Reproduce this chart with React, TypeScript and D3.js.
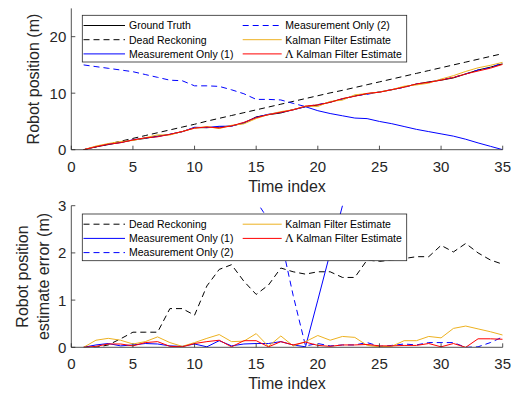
import { useEffect, useRef } from 'react'
import * as d3 from 'd3'

// time index 1..35
const timeIndex = [1, 2, 3, 4, 5, 6, 7, 8, 9, 10, 11, 12, 13, 14, 15, 16, 17, 18, 19, 20, 21, 22, 23, 24, 25, 26, 27, 28, 29, 30, 31, 32, 33, 34, 35]

// top panel: robot position (m)
const groundTruth = [0, 0.5, 0.9, 1.3, 1.7, 2.0, 2.4, 2.7, 3.2, 3.9, 3.9, 4.0, 4.2, 4.7, 5.8, 6.2, 6.5, 7.1, 7.6, 7.9, 8.4, 9.0, 9.5, 9.9, 10.2, 10.6, 11.1, 11.6, 12.0, 12.3, 12.7, 13.4, 14.1, 14.6, 15.2]
const deadReckoning = [0, 0.5, 1.0, 1.5, 2.0, 2.5, 3.0, 3.5, 4.0, 4.5, 5.05, 5.55, 6.05, 6.55, 7.05, 7.55, 8.05, 8.55, 9.05, 9.55, 10.05, 10.5, 11.0, 11.5, 12.0, 12.5, 13.0, 13.5, 14.0, 14.5, 15.0, 15.5, 16.0, 16.5, 17.0]
const measOnly1 = [0, 0.55, 0.98, 1.27, 1.75, 2.08, 2.33, 2.73, 3.18, 3.97, 3.91, 4.14, 4.17, 4.77, 5.72, 6.28, 6.62, 7.05, 7.61, 6.9, 6.4, 6.0, 5.6, 5.5, 5.0, 4.6, 4.1, 3.6, 3.2, 2.8, 2.4, 1.85, 1.2, 0.6, 0.0]
const measOnly2 = [15.0, 14.7, 14.4, 14.1, 13.8, 13.3, 12.8, 12.3, 12.2, 11.3, 11.3, 11.2, 10.6, 9.9, 8.9, 8.9, 8.8, 8.2, 7.63, 7.98, 8.43, 8.95, 9.55, 9.8, 10.22, 10.64, 11.03, 11.65, 11.9, 12.4, 12.8, 13.4, 14.11, 14.5, 15.42]
const kalman = [0, 0.65, 1.09, 1.45, 1.63, 2.12, 2.62, 2.6, 3.22, 3.8, 4.09, 3.73, 4.32, 4.57, 5.51, 6.22, 6.74, 7.07, 7.72, 7.65, 8.55, 8.77, 9.71, 9.94, 10.21, 10.62, 11.24, 11.46, 11.77, 12.5, 13.1, 13.85, 14.49, 14.93, 15.46]
const lambdaKalman = [0, 0.52, 0.97, 1.23, 1.73, 2.1, 2.28, 2.72, 3.21, 3.82, 4.02, 3.85, 4.21, 4.84, 5.66, 6.21, 6.62, 7.05, 7.71, 7.94, 8.38, 9.05, 9.45, 9.96, 10.17, 10.63, 11.06, 11.64, 11.92, 12.31, 12.78, 13.4, 13.92, 14.42, 15.1]

// bottom panel: estimate error (m)
const errDeadReckoning = [0, 0, 0.05, 0.18, 0.32, 0.32, 0.32, 0.82, 0.82, 0.68, 1.3, 1.65, 1.75, 1.4, 1.12, 1.32, 1.68, 1.6, 1.55, 1.6, 1.6, 1.48, 1.48, 1.85, 1.82, 1.85, 1.88, 1.92, 1.92, 2.16, 2.02, 2.2, 2.0, 1.85, 1.76]
const errMeas1 = [0, 0.05, 0.08, 0.03, 0.05, 0.08, 0.07, 0.03, 0.02, 0.07, 0.01, 0.14, 0.03, 0.07, 0.08, 0.08, 0.12, 0.05, 0.01, 1.0, 2.0, 3.0, 3.9, 4.4, 5.2, 6.0, 7.0, 8.0, 8.8, 9.5, 10.3, 11.55, 12.9, 14.0, 15.2]
const errMeas2 = [15.0, 14.2, 13.5, 12.8, 12.1, 11.3, 10.4, 9.6, 9.0, 7.4, 7.4, 7.2, 6.4, 5.2, 3.1, 2.7, 2.3, 1.1, 0.03, 0.08, 0.03, 0.05, 0.05, 0.1, 0.02, 0.04, 0.07, 0.05, 0.1, 0.1, 0.1, 0.0, 0.01, 0.1, 0.22]
const errKalman = [0, 0.15, 0.19, 0.15, 0.07, 0.12, 0.22, 0.1, 0.02, 0.1, 0.19, 0.27, 0.12, 0.13, 0.29, 0.02, 0.24, 0.03, 0.12, 0.25, 0.15, 0.23, 0.21, 0.04, 0.01, 0.02, 0.14, 0.14, 0.23, 0.2, 0.4, 0.45, 0.39, 0.33, 0.26]
const errLambdaKalman = [0, 0.02, 0.07, 0.07, 0.03, 0.1, 0.12, 0.02, 0.01, 0.08, 0.12, 0.15, 0.01, 0.14, 0.14, 0.01, 0.12, 0.05, 0.11, 0.04, 0.02, 0.05, 0.05, 0.06, 0.03, 0.03, 0.04, 0.04, 0.08, 0.01, 0.08, 0.0, 0.18, 0.18, 0.17]

const xTicks = [0, 5, 10, 15, 20, 25, 30, 35]
const topYTicks = [0, 10, 20]
const botYTicks = [0, 1, 2, 3]

const FONT = '"Liberation Sans", Arial, Helvetica, sans-serif'
const C = {
  axis: '#262626',
  black: '#000000',
  blue: '#0000ff',
  yellow: '#edb120',
  red: '#ff0000',
}

type Series = { label: string; values: number[]; color: string; dash?: string; lambda?: boolean }

export default function App() {
  const svgRef = useRef<SVGSVGElement>(null)

  useEffect(() => {
    const W = 516, H = 394
    const svg = d3.select(svgRef.current)
    svg.selectAll('*').remove()
    svg.attr('width', W).attr('height', H).style('background', '#fff')

    const x = d3.scaleLinear().domain([0, 35]).range([71.3, 502.7])

    const panel = (id: string, y: d3.ScaleLinear<number, number>, yTicks: number[], series: Series[], legendCols: Series[][], legendTop: number, yLabel: string[]) => {
      const [y0, y1] = y.range()
      const g = svg.append('g')

      g.append('clipPath').attr('id', id).append('rect')
        .attr('x', x(0)).attr('y', y1).attr('width', x(35) - x(0)).attr('height', y0 - y1)

      const line = d3.line<number>().x((_, i) => x(timeIndex[i])).y(d => y(d))
      series.forEach(s => {
        g.append('path').datum(s.values).attr('clip-path', `url(#${id})`)
          .attr('fill', 'none').attr('stroke', s.color).attr('stroke-width', 1)
          .attr('stroke-dasharray', s.dash ?? null).attr('d', line)
      })

      // axes (box off)
      g.append('line').attr('x1', x(0)).attr('x2', x(35)).attr('y1', y0).attr('y2', y0).attr('stroke', C.axis).attr('stroke-width', 0.8)
      g.append('line').attr('x1', x(0)).attr('x2', x(0)).attr('y1', y0).attr('y2', y1).attr('stroke', C.axis).attr('stroke-width', 0.8)

      xTicks.forEach(v => {
        g.append('line').attr('x1', x(v)).attr('x2', x(v)).attr('y1', y0).attr('y2', y0 - 4).attr('stroke', C.axis).attr('stroke-width', 0.8)
        g.append('text').attr('x', x(v)).attr('y', y0 + 22).attr('text-anchor', 'middle')
          .attr('font-size', 15).attr('fill', C.axis).attr('font-family', FONT).text(v)
      })
      yTicks.forEach(v => {
        g.append('line').attr('x1', x(0)).attr('x2', x(0) + 4).attr('y1', y(v)).attr('y2', y(v)).attr('stroke', C.axis).attr('stroke-width', 0.8)
        g.append('text').attr('x', x(0) - 5).attr('y', y(v) + 5.5).attr('text-anchor', 'end')
          .attr('font-size', 15).attr('fill', C.axis).attr('font-family', FONT).text(v)
      })

      g.append('text').attr('x', (x(0) + x(35)) / 2).attr('y', y0 + 42).attr('text-anchor', 'middle')
        .attr('font-size', 16).attr('fill', C.axis).attr('font-family', FONT).text('Time index')

      const yc = (y0 + y1) / 2
      const lx = yLabel.length === 1 ? 39 : 28
      yLabel.forEach((t, i) => {
        g.append('text').attr('transform', `translate(${lx + i * 21},${yc}) rotate(-90)`).attr('text-anchor', 'middle')
          .attr('font-size', 16).attr('fill', C.axis).attr('font-family', FONT).text(t)
      })

      // legend
      const lh = 14.2
      const lg = g.append('g')
      lg.append('rect').attr('x', 82.3).attr('y', legendTop).attr('width', 324.4).attr('height', 46.7)
        .attr('fill', '#fff').attr('stroke', C.axis).attr('stroke-width', 0.8)
      const cols = [{ l0: 83.5, l1: 125, tx: 129 }, { l0: 242.7, l1: 281.7, tx: 285.3 }]
      legendCols.forEach((col, ci) => {
        col.forEach((s, ri) => {
          const cy = legendTop + 10.2 + ri * lh
          lg.append('line').attr('x1', cols[ci].l0).attr('x2', cols[ci].l1).attr('y1', cy).attr('y2', cy)
            .attr('stroke', s.color).attr('stroke-width', 1).attr('stroke-dasharray', s.dash ?? null)
          const t = lg.append('text').attr('x', cols[ci].tx).attr('y', cy + 3.8)
            .attr('font-size', 10.5).attr('fill', C.black).attr('font-family', FONT)
          if (s.lambda) {
            t.append('tspan').attr('font-family', '"DejaVu Serif", "Liberation Serif", serif').attr('font-size', 11).text('Λ')
            t.append('tspan').text(' Kalman Filter Estimate')
          } else t.text(s.label)
        })
      })
    }

    // top panel
    const yTop = d3.scaleLinear().domain([0, 25]).range([149.7, 8.4])
    const sGT: Series = { label: 'Ground Truth', values: groundTruth, color: C.black }
    const sDR: Series = { label: 'Dead Reckoning', values: deadReckoning, color: C.black, dash: '6,4' }
    const sM1: Series = { label: 'Measurement Only (1)', values: measOnly1, color: C.blue }
    const sM2: Series = { label: 'Measurement Only (2)', values: measOnly2, color: C.blue, dash: '6,4' }
    const sK: Series = { label: 'Kalman Filter Estimate', values: kalman, color: C.yellow }
    const sLK: Series = { label: 'Λ Kalman Filter Estimate', values: lambdaKalman, color: C.red, lambda: true }
    panel('clipTop', yTop, topYTicks, [sGT, sDR, sM1, sM2, sK, sLK], [[sGT, sDR, sM1], [sM2, sK, sLK]], 15.3, ['Robot position (m)'])

    // bottom panel
    const yBot = d3.scaleLinear().domain([0, 3]).range([347.3, 205.7])
    const eDR: Series = { ...sDR, values: errDeadReckoning }
    const eM1: Series = { ...sM1, values: errMeas1 }
    const eM2: Series = { ...sM2, values: errMeas2 }
    const eK: Series = { ...sK, values: errKalman }
    const eLK: Series = { ...sLK, values: errLambdaKalman }
    panel('clipBot', yBot, botYTicks, [eDR, eM1, eM2, eK, eLK], [[eDR, eM1, eM2], [eK, eLK]], 214, ['Robot position', 'estimate error (m)'])
  }, [])

  return (
    <div style={{ position: 'absolute', left: 0, top: 0 }}>
      <svg ref={svgRef} style={{ display: 'block' }} />
    </div>
  )
}
